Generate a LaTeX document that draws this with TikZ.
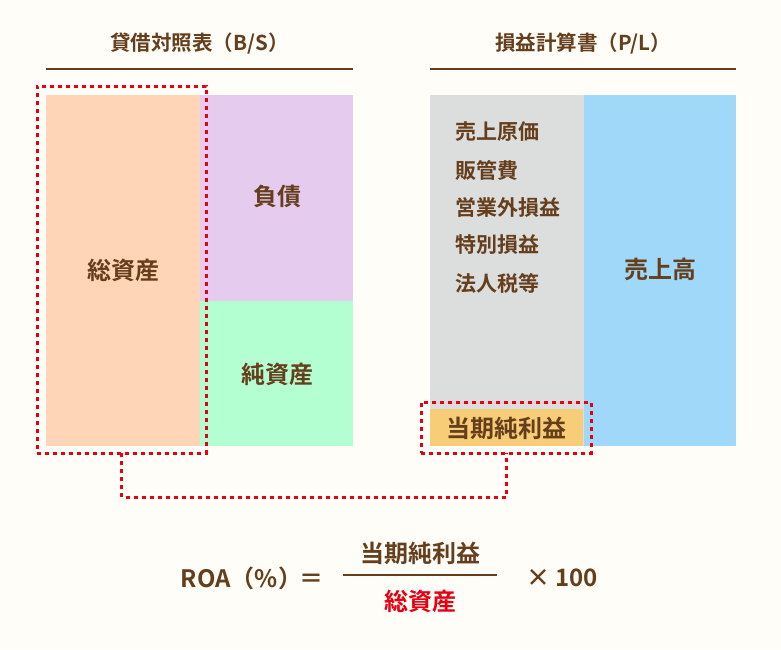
\documentclass[tikz,border=0pt]{standalone}
\usepackage{fontspec}
\setmainfont{Noto Sans CJK JP}[BoldFont={* Bold}]
\usetikzlibrary{positioning}
\definecolor{bg}{HTML}{FFFDF8}
\definecolor{brn}{HTML}{653E1C}
\definecolor{rd}{HTML}{E60012}
\definecolor{peach}{HTML}{FFD5B8}
\definecolor{lilac}{HTML}{E5CCEE}
\definecolor{mint}{HTML}{B3FFD1}
\definecolor{greyb}{HTML}{DCDDDD}
\definecolor{skyb}{HTML}{A0D8FA}
\definecolor{gold}{HTML}{F8CD78}
\tikzset{
  box/.style={anchor=north west, inner sep=0pt, outer sep=0pt},
  lbl/.style={text=brn, font=\bfseries\fontsize{24}{28}\selectfont, inner sep=0pt},
  small/.style={text=brn, font=\bfseries\fontsize{20.5}{24}\selectfont, inner sep=0pt},
  listtxt/.style={text=brn, font=\bfseries\fontsize{21}{24}\selectfont, inner sep=0pt, anchor=west},
  reddot/.style={draw=rd, line width=3pt, dash pattern=on 4pt off 4pt},
  rule/.style={draw=brn, line width=2pt},
}
\begin{document}
\begin{tikzpicture}[x=1pt,y=-1pt]
\fill[bg] (0,0) rectangle (781,649);
\useasboundingbox (0,0) rectangle (781,649);
% titles
\node[small] (bst) at (199.5,44) {貸借対照表（B/S）};
\node[small] (plt) at (583,44) {損益計算書（P/L）};
\coordinate (bsl1) at (46,69); \coordinate (bsl2) at (353,69);
\coordinate (pll1) at (430,69); \coordinate (pll2) at (736,69);
\draw[rule] (bsl1) -- (bsl2);
\draw[rule] (pll1) -- (pll2);
% B/S boxes
\fill[peach] (46,95) rectangle (200,446);
\fill[lilac] (200,95) rectangle (353,301);
\fill[mint] (200,301) rectangle (353,446);
\node[lbl] (ta) at (123,270) {総資産};
\node[lbl] (li) at (277,196) {負債};
\node[lbl] (na) at (277,374) {純資産};
% P/L boxes
\fill[greyb] (430,95) rectangle (584,446);
\fill[skyb] (584,95) rectangle (736,446);
\fill[gold] (430,409) rectangle (583,446);
\node[listtxt] (c1) at (455,132) {売上原価};
\node[listtxt] (c2) at (455,170) {販管費};
\node[listtxt] (c3) at (455,208) {営業外損益};
\node[listtxt] (c4) at (455,245) {特別損益};
\node[listtxt] (c5) at (455,283) {法人税等};
\node[lbl] (sales) at (660,269) {売上高};
\node[lbl] (np) at (506,428) {当期純利益};
% red dotted frames
\node[reddot, box, minimum width=169pt, minimum height=367pt] (bsbox) at (37,86) {};
\node[reddot, box, minimum width=170pt, minimum height=51pt] (plbox) at (421,402) {};
\draw[reddot] (bsbox.south) -- ++(0,44) -| (plbox.south);
% formula
\node[lbl] (roa) at (252,578) {ROA（\%）\kern-3pt＝};
\coordinate (f1) at (343,575); \coordinate (f2) at (497,575);
\draw[rule] (f1) -- (f2);
\node[lbl] (num) at (420,553) {当期純利益};
\node[lbl, text=rd] (den) at (420,601) {総資産};
\node[lbl] (x100) at (562,578) {× 100};
\end{tikzpicture}
\end{document}
